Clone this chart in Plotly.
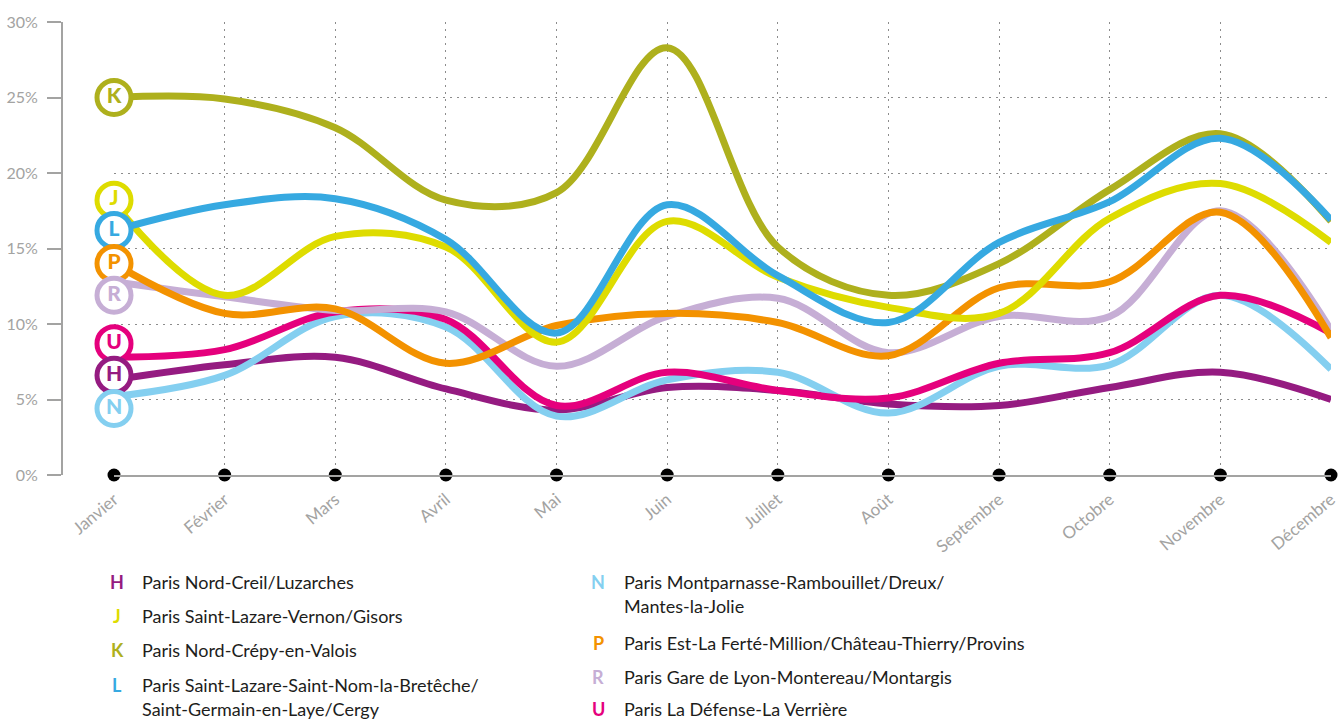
import plotly.graph_objects as go

months = ["Janvier", "Février", "Mars", "Avril", "Mai", "Juin", "Juillet",
          "Août", "Septembre", "Octobre", "Novembre", "Décembre"]
y_ticks = [0, 5, 10, 15, 20, 25, 30]
y_labels = ["0%", "5%", "10%", "15%", "20%", "25%", "30%"]

H = [6.3, 7.3, 7.8, 5.7, 4.3, 5.8, 5.6, 4.7, 4.6, 5.8, 6.8, 5.0]
J = [18.0, 11.9, 15.8, 15.1, 8.8, 16.8, 13.1, 11.1, 10.7, 17.0, 19.3, 15.4]
K = [25.0, 24.9, 23.0, 18.2, 18.7, 28.3, 15.1, 11.9, 14.0, 18.9, 22.6, 16.8]
L = [16.2, 17.9, 18.3, 15.6, 9.4, 17.9, 13.2, 10.1, 15.4, 18.1, 22.3, 16.9]
N = [5.2, 6.6, 10.5, 9.8, 3.9, 6.3, 6.8, 4.1, 7.2, 7.3, 11.9, 7.0]
P = [14.0, 10.7, 11.0, 7.4, 9.9, 10.7, 10.1, 7.9, 12.4, 12.8, 17.4, 9.1]
R = [12.8, 11.8, 10.9, 10.8, 7.2, 10.5, 11.7, 8.1, 10.5, 10.5, 17.5, 9.6]
U = [7.8, 8.3, 10.8, 10.3, 4.6, 6.8, 5.6, 5.1, 7.4, 8.1, 11.9, 9.4]

lines = {
    "H": ("Paris Nord-Creil/Luzarches", H, "#951b81"),
    "J": ("Paris Saint-Lazare-Vernon/Gisors", J, "#dedc00"),
    "K": ("Paris Nord-Crépy-en-Valois", K, "#aeb01d"),
    "L": ("Paris Saint-Lazare-Saint-Nom-la-Bretêche/<br>Saint-Germain-en-Laye/Cergy", L, "#36a9e1"),
    "N": ("Paris Montparnasse-Rambouillet/Dreux/<br>Mantes-la-Jolie", N, "#84cff0"),
    "P": ("Paris Est-La Ferté-Million/Château-Thierry/Provins", P, "#f39200"),
    "R": ("Paris Gare de Lyon-Montereau/Montargis", R, "#c6aed5"),
    "U": ("Paris La Défense-La Verrière", U, "#e5007d"),
}

# badge (label circle) heights at Janvier, in %
badge_y = {"K": 25.0, "J": 18.2, "L": 16.2, "P": 14.0, "R": 11.9, "U": 8.7, "H": 6.6, "N": 4.4}

W, HGT = 1344, 721
ML, MR, MT, MB = 0, 13, 22, 246
PW = W - ML - MR
PH = HGT - MT - MB

def px_x(px):
    return (px - ML) / PW

def px_y(py):
    return (HGT - MB - py) / PH

FONT = "Lato"
GRID = "#8c8c8c"
AXC = "#a3a3a2"

fig = go.Figure()
xs = list(range(len(months)))

for key in ["H", "N", "U", "R", "P", "J", "K", "L"]:
    name, vals, col = lines[key]
    fig.add_trace(go.Scatter(x=xs, y=vals, mode="lines",
                             line=dict(color=col, width=7, shape="spline", smoothing=1),
                             hoverinfo="skip"))

# month dots on the axis
fig.add_trace(go.Scatter(x=xs, y=[0] * len(xs), mode="markers",
                         marker=dict(color="black", size=13), cliponaxis=False,
                         hoverinfo="skip"))

for key in ["K", "J", "L", "P", "R", "U", "H", "N"]:
    name, vals, col = lines[key]
    fig.add_trace(go.Scatter(x=[0], y=[badge_y[key]], mode="markers+text",
                             text=[key], textposition="middle center",
                             textfont=dict(family=FONT, size=21, color=col, weight=900),
                             marker=dict(size=34, color="white", line=dict(color=col, width=5)),
                             cliponaxis=False, hoverinfo="skip"))

fig.update_layout(
    width=W, height=HGT,
    margin=dict(l=ML, r=MR, t=MT, b=MB, autoexpand=False),
    plot_bgcolor="white", paper_bgcolor="white",
    showlegend=False,
    font=dict(family=FONT),
    xaxis=dict(domain=[px_x(114), 1], range=[0, 11], tickvals=xs, ticktext=months,
               tickangle=-40, showgrid=True, gridcolor=GRID, gridwidth=1.3,
               griddash="2px,5px", showline=True, linecolor=AXC, linewidth=2,
               ticks="", zeroline=False, automargin=False, ticklabelstandoff=6,
               tickfont=dict(size=17, color=AXC, family=FONT)),
    yaxis=dict(range=[0, 30], tickvals=y_ticks, ticktext=y_labels,
               anchor="free", position=px_x(62), showline=True, linecolor=AXC,
               linewidth=2, ticks="outside", ticklen=14, tickwidth=2, tickcolor=AXC,
               showgrid=True, gridcolor=GRID, gridwidth=1.3, griddash="2px,5px",
               zeroline=False, automargin=False, ticklabelstandoff=6,
               tickfont=dict(size=16, color=AXC, family=FONT)),
)

left = [("H", 582), ("J", 616), ("K", 650), ("L", 685)]
right = [("N", 582), ("P", 643), ("R", 677), ("U", 709)]
for col_items, lx, tx in [(left, 117, 140), (right, 598, 622)]:
    for key, py in col_items:
        name, vals, col = lines[key]
        fig.add_annotation(xref="paper", yref="paper", x=px_x(lx), y=px_y(py),
                           text=f"<b>{key}</b>", showarrow=False, xanchor="center",
                           yanchor="middle", font=dict(family=FONT, size=18, color=col))
        for i, part in enumerate(name.split("<br>")):
            fig.add_annotation(xref="paper", yref="paper", x=px_x(tx), y=px_y(py + 24 * i),
                               text=part, showarrow=False, xanchor="left",
                               yanchor="middle", font=dict(family=FONT, size=18, color="#1d1d1b"))

fig.write_html("out.html")
